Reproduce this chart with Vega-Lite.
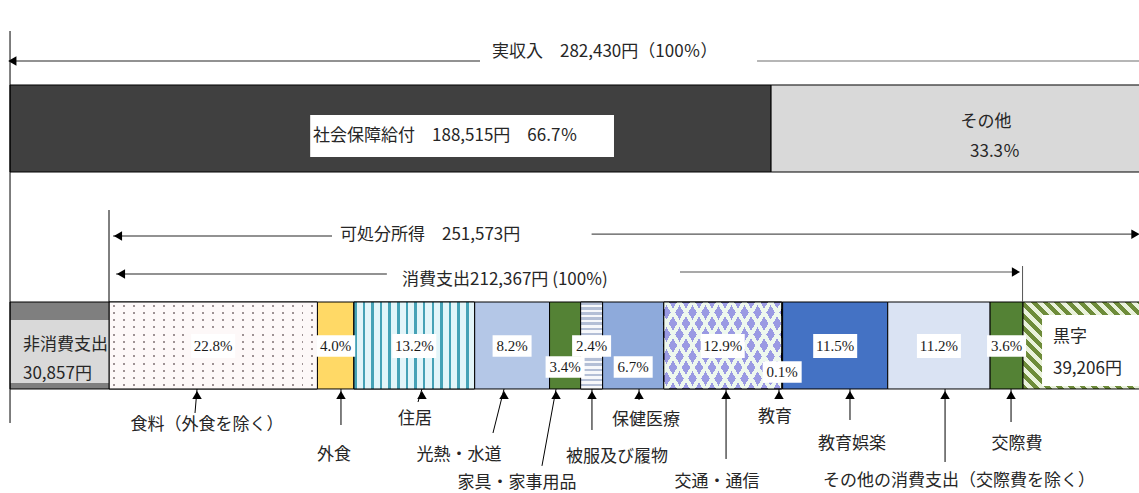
{
 "$schema": "https://vega.github.io/schema/vega-lite/v6.json",
 "width": 1139,
 "height": 493,
 "autosize": {"type": "fit", "contains": "padding"},
 "padding": 0,
 "background": "#ffffff",
 "config": {"view": {"stroke": null}},
 "resolve": {"scale": {"fill": "independent"}},
 "data": {"values": [{}]},
 "datasets": {
  "income": [
   {"ord": 1, "cat": "社会保障給付", "amount": 188515, "pct": 66.7},
   {"ord": 2, "cat": "その他", "pct": 33.3}
  ],
  "totals": [
   {"name": "実収入", "amount": 282430},
   {"name": "可処分所得", "amount": 251573},
   {"name": "消費支出", "amount": 212367}
  ],
  "balance": [
   {"name": "非消費支出", "amount": 30857},
   {"name": "黒字", "amount": 39206}
  ],
  "cons": [
   {"ord": 1, "cat": "食料（外食を除く）", "pct": 22.8, "tier": 0},
   {"ord": 2, "cat": "外食", "pct": 4.0, "tier": 0},
   {"ord": 3, "cat": "住居", "pct": 13.2, "tier": 0},
   {"ord": 4, "cat": "光熱・水道", "pct": 8.2, "tier": 0},
   {"ord": 5, "cat": "家具・家事用品", "pct": 3.4, "tier": 1},
   {"ord": 6, "cat": "被服及び履物", "pct": 2.4, "tier": 0},
   {"ord": 7, "cat": "保健医療", "pct": 6.7, "tier": 1},
   {"ord": 8, "cat": "交通・通信", "pct": 12.9, "tier": 0},
   {"ord": 9, "cat": "教育", "pct": 0.1, "tier": 2},
   {"ord": 10, "cat": "教育娯楽", "pct": 11.5, "tier": 0},
   {"ord": 11, "cat": "その他の消費支出（交際費を除く）", "pct": 11.2, "tier": 0},
   {"ord": 12, "cat": "交際費", "pct": 3.6, "tier": 0}
  ],
  "callouts": [
   {"cat": "食料（外食を除く）", "tx": 9.63, "ex": 9.41, "ey": 83.77, "lx": 10.72, "ly": 86.21},
   {"cat": "外食", "tx": 25.38, "ex": 25.38, "ey": 86.21, "lx": 24.62, "ly": 92.29},
   {"cat": "住居", "tx": 34.24, "ex": 33.81, "ey": 81.54, "lx": 33.48, "ly": 84.99},
   {"cat": "光熱・水道", "tx": 43.22, "ex": 42.01, "ey": 87.83, "lx": 38.29, "ly": 92.29},
   {"cat": "家具・家事用品", "tx": 48.91, "ex": 47.37, "ey": 94.5, "lx": 44.64, "ly": 98.0},
   {"cat": "被服及び履物", "tx": 52.84, "ex": 52.84, "ey": 87.22, "lx": 55.58, "ly": 92.7},
   {"cat": "保健医療", "tx": 57.99, "ex": 57.99, "ey": 81.14, "lx": 58.75, "ly": 85.19},
   {"cat": "交通・通信", "tx": 67.51, "ex": 67.51, "ey": 93.1, "lx": 66.52, "ly": 97.77},
   {"cat": "教育", "tx": 73.3, "ex": 73.3, "ey": 80.53, "lx": 72.87, "ly": 84.6},
   {"cat": "教育娯楽", "tx": 81.07, "ex": 81.07, "ey": 85.19, "lx": 81.29, "ly": 90.06},
   {"cat": "その他の消費支出（交際費を除く）", "tx": 91.47, "ex": 91.47, "ey": 93.71, "lx": 93.0, "ly": 97.57},
   {"cat": "交際費", "tx": 98.69, "ex": 98.69, "ey": 85.6, "lx": 99.34, "ly": 90.06}
  ]
 },
 "layer": [
  {
   "data": {"name": "income"},
   "transform": [
    {"stack": "pct", "groupby": [], "sort": [{"field": "ord", "order": "ascending"}], "as": ["s0", "s1"]},
    {"calculate": "1.2484 * datum.s0 - 10.832", "as": "a0"},
    {"calculate": "1.2484 * datum.s1 - 10.832", "as": "a1"}
   ],
   "mark": {"type": "rect", "stroke": "#000000", "strokeWidth": 1, "clip": true},
   "encoding": {
    "x": {"field": "a0", "type": "quantitative", "axis": null, "scale": {"domain": [-11.926, 112.69], "nice": false, "zero": false}},
    "x2": {"field": "a1"},
    "y": {"datum": 17.24, "type": "quantitative", "axis": null, "scale": {"domain": [0, 100], "nice": false, "zero": false, "reverse": true}},
    "y2": {"datum": 34.89},
    "fill": {"field": "cat", "type": "nominal", "scale": {"domain": ["社会保障給付", "その他"], "range": ["#404040", "#d9d9d9"]}, "legend": null}
   }
  },
  {
   "data": {"name": "income"},
   "transform": [{"filter": "datum.ord === 1"}],
   "mark": {"type": "rect", "fill": "#ffffff", "clip": true},
   "encoding": {
    "x": {"datum": 22.01, "type": "quantitative", "axis": null},
    "x2": {"datum": 55.25},
    "y": {"datum": 23.33, "type": "quantitative", "axis": null},
    "y2": {"datum": 31.85}
   }
  },
  {
   "data": {"name": "income"},
   "transform": [{"filter": "datum.ord === 1"}, {"calculate": "datum.cat + '　' + format(datum.amount, ',') + '円　' + format(datum.pct, '.1f') + '％'", "as": "t"}],
   "mark": {"type": "text", "align": "left", "baseline": "middle", "font": "Noto Sans CJK JP", "fontSize": 17, "color": "#262626", "clip": true},
   "encoding": {
    "x": {"datum": 22.32, "type": "quantitative", "axis": null},
    "y": {"datum": 27.59, "type": "quantitative", "axis": null},
    "text": {"field": "t", "type": "nominal"}
   }
  },
  {
   "data": {"name": "income"},
   "transform": [{"filter": "datum.ord === 2"}],
   "mark": {"type": "text", "align": "center", "baseline": "middle", "font": "Noto Sans CJK JP", "fontSize": 17, "color": "#262626", "clip": true},
   "encoding": {
    "x": {"datum": 95.95, "type": "quantitative", "axis": null},
    "y": {"datum": 24.75, "type": "quantitative", "axis": null},
    "text": {"field": "cat", "type": "nominal"}
   }
  },
  {
   "data": {"name": "income"},
   "transform": [{"filter": "datum.ord === 2"}, {"calculate": "format(datum.pct, '.1f') + '％'", "as": "t"}],
   "mark": {"type": "text", "align": "center", "baseline": "middle", "font": "Noto Sans CJK JP", "fontSize": 17, "color": "#262626", "clip": true},
   "encoding": {
    "x": {"datum": 96.94, "type": "quantitative", "axis": null},
    "y": {"datum": 30.83, "type": "quantitative", "axis": null},
    "text": {"field": "t", "type": "nominal"}
   }
  },
  {
   "data": {"name": "totals"},
   "transform": [{"filter": "datum.name === '実収入'"}, {"calculate": "datum.name + '　' + format(datum.amount, ',') + '円（100％）'", "as": "t"}],
   "mark": {"type": "text", "align": "left", "baseline": "middle", "font": "Noto Sans CJK JP", "fontSize": 17, "color": "#262626", "clip": true},
   "encoding": {
    "x": {"datum": 41.9, "type": "quantitative", "axis": null},
    "y": {"datum": 10.55, "type": "quantitative", "axis": null},
    "text": {"field": "t", "type": "nominal"}
   }
  },
  {
   "mark": {"type": "rule", "color": "#262626", "strokeWidth": 1.2, "clip": true},
   "encoding": {
    "x": {"datum": -10.83, "type": "quantitative", "axis": null},
    "x2": {"datum": 40.59},
    "y": {"datum": 12.37, "type": "quantitative", "axis": null}
   }
  },
  {
   "mark": {"type": "rule", "color": "#6e6e6e", "strokeWidth": 1.2, "clip": true},
   "encoding": {
    "x": {"datum": 70.9, "type": "quantitative", "axis": null},
    "x2": {"datum": 115},
    "y": {"datum": 12.37, "type": "quantitative", "axis": null}
   }
  },
  {
   "mark": {"type": "point", "shape": "triangle-left", "filled": true, "color": "#000000", "opacity": 1, "size": 90, "clip": true},
   "encoding": {
    "x": {"datum": -10.58, "type": "quantitative", "axis": null},
    "y": {"datum": 12.37, "type": "quantitative", "axis": null}
   }
  },
  {
   "data": {"name": "cons"},
   "transform": [{"stack": "pct", "groupby": [], "sort": [{"field": "ord", "order": "ascending"}], "as": ["c0", "c1"]}],
   "mark": {"type": "rect", "stroke": "#000000", "strokeWidth": 1, "clip": true},
   "encoding": {
    "x": {"field": "c0", "type": "quantitative", "axis": null},
    "x2": {"field": "c1"},
    "y": {"datum": 61.26, "type": "quantitative", "axis": null},
    "y2": {"datum": 78.9},
    "fill": {"field": "cat", "type": "nominal", "legend": null, "scale": {
     "domain": ["食料（外食を除く）", "外食", "住居", "光熱・水道", "家具・家事用品", "被服及び履物", "保健医療", "交通・通信", "教育", "教育娯楽", "その他の消費支出（交際費を除く）", "交際費"],
     "range": ["#9e9294", "#ffd966", "#c6e9f0", "#b4c7e7", "#548235", "#d7dde9", "#8eaadb", "#9a9ae3", "#a9d18e", "#4472c4", "#dae3f3", "#548235"]}}
   }
  },
  {
   "data": {"name": "cons"},
   "transform": [{"stack": "pct", "groupby": [], "sort": [{"field": "ord", "order": "ascending"}], "as": ["c0", "c1"]}, {"filter": "datum.ord === 1"}],
   "mark": {"type": "rect", "strokeWidth": 0, "clip": true,
    "fill": {"gradient": "linear", "x1": 0, "y1": 0, "x2": 1, "y2": 0, "stops": [
     {"offset": 0, "color": "#fdf8f8"},
     {"offset": 0.019, "color": "#fdf8f8"}, {"offset": 0.019, "color": "rgba(253,248,248,0)"}, {"offset": 0.0286, "color": "rgba(253,248,248,0)"}, {"offset": 0.0286, "color": "#fdf8f8"},
     {"offset": 0.0667, "color": "#fdf8f8"}, {"offset": 0.0667, "color": "rgba(253,248,248,0)"}, {"offset": 0.0762, "color": "rgba(253,248,248,0)"}, {"offset": 0.0762, "color": "#fdf8f8"},
     {"offset": 0.1143, "color": "#fdf8f8"}, {"offset": 0.1143, "color": "rgba(253,248,248,0)"}, {"offset": 0.1238, "color": "rgba(253,248,248,0)"}, {"offset": 0.1238, "color": "#fdf8f8"},
     {"offset": 0.1619, "color": "#fdf8f8"}, {"offset": 0.1619, "color": "rgba(253,248,248,0)"}, {"offset": 0.1714, "color": "rgba(253,248,248,0)"}, {"offset": 0.1714, "color": "#fdf8f8"},
     {"offset": 0.2095, "color": "#fdf8f8"}, {"offset": 0.2095, "color": "rgba(253,248,248,0)"}, {"offset": 0.219, "color": "rgba(253,248,248,0)"}, {"offset": 0.219, "color": "#fdf8f8"},
     {"offset": 0.2571, "color": "#fdf8f8"}, {"offset": 0.2571, "color": "rgba(253,248,248,0)"}, {"offset": 0.2667, "color": "rgba(253,248,248,0)"}, {"offset": 0.2667, "color": "#fdf8f8"},
     {"offset": 0.3048, "color": "#fdf8f8"}, {"offset": 0.3048, "color": "rgba(253,248,248,0)"}, {"offset": 0.3143, "color": "rgba(253,248,248,0)"}, {"offset": 0.3143, "color": "#fdf8f8"},
     {"offset": 0.3524, "color": "#fdf8f8"}, {"offset": 0.3524, "color": "rgba(253,248,248,0)"}, {"offset": 0.3619, "color": "rgba(253,248,248,0)"}, {"offset": 0.3619, "color": "#fdf8f8"},
     {"offset": 0.4, "color": "#fdf8f8"}, {"offset": 0.4, "color": "rgba(253,248,248,0)"}, {"offset": 0.4095, "color": "rgba(253,248,248,0)"}, {"offset": 0.4095, "color": "#fdf8f8"},
     {"offset": 0.4476, "color": "#fdf8f8"}, {"offset": 0.4476, "color": "rgba(253,248,248,0)"}, {"offset": 0.4571, "color": "rgba(253,248,248,0)"}, {"offset": 0.4571, "color": "#fdf8f8"},
     {"offset": 0.4952, "color": "#fdf8f8"}, {"offset": 0.4952, "color": "rgba(253,248,248,0)"}, {"offset": 0.5048, "color": "rgba(253,248,248,0)"}, {"offset": 0.5048, "color": "#fdf8f8"},
     {"offset": 0.5429, "color": "#fdf8f8"}, {"offset": 0.5429, "color": "rgba(253,248,248,0)"}, {"offset": 0.5524, "color": "rgba(253,248,248,0)"}, {"offset": 0.5524, "color": "#fdf8f8"},
     {"offset": 0.5905, "color": "#fdf8f8"}, {"offset": 0.5905, "color": "rgba(253,248,248,0)"}, {"offset": 0.6, "color": "rgba(253,248,248,0)"}, {"offset": 0.6, "color": "#fdf8f8"},
     {"offset": 0.6381, "color": "#fdf8f8"}, {"offset": 0.6381, "color": "rgba(253,248,248,0)"}, {"offset": 0.6476, "color": "rgba(253,248,248,0)"}, {"offset": 0.6476, "color": "#fdf8f8"},
     {"offset": 0.6857, "color": "#fdf8f8"}, {"offset": 0.6857, "color": "rgba(253,248,248,0)"}, {"offset": 0.6952, "color": "rgba(253,248,248,0)"}, {"offset": 0.6952, "color": "#fdf8f8"},
     {"offset": 0.7333, "color": "#fdf8f8"}, {"offset": 0.7333, "color": "rgba(253,248,248,0)"}, {"offset": 0.7429, "color": "rgba(253,248,248,0)"}, {"offset": 0.7429, "color": "#fdf8f8"},
     {"offset": 0.781, "color": "#fdf8f8"}, {"offset": 0.781, "color": "rgba(253,248,248,0)"}, {"offset": 0.7905, "color": "rgba(253,248,248,0)"}, {"offset": 0.7905, "color": "#fdf8f8"},
     {"offset": 0.8286, "color": "#fdf8f8"}, {"offset": 0.8286, "color": "rgba(253,248,248,0)"}, {"offset": 0.8381, "color": "rgba(253,248,248,0)"}, {"offset": 0.8381, "color": "#fdf8f8"},
     {"offset": 0.8762, "color": "#fdf8f8"}, {"offset": 0.8762, "color": "rgba(253,248,248,0)"}, {"offset": 0.8857, "color": "rgba(253,248,248,0)"}, {"offset": 0.8857, "color": "#fdf8f8"},
     {"offset": 0.9238, "color": "#fdf8f8"}, {"offset": 0.9238, "color": "rgba(253,248,248,0)"}, {"offset": 0.9333, "color": "rgba(253,248,248,0)"}, {"offset": 0.9333, "color": "#fdf8f8"},
     {"offset": 0.9714, "color": "#fdf8f8"}, {"offset": 0.9714, "color": "rgba(253,248,248,0)"}, {"offset": 0.981, "color": "rgba(253,248,248,0)"}, {"offset": 0.981, "color": "#fdf8f8"},
     {"offset": 1, "color": "#fdf8f8"}
    ]}},
   "encoding": {
    "x": {"field": "c0", "type": "quantitative", "axis": null},
    "x2": {"field": "c1"},
    "y": {"datum": 61.26, "type": "quantitative", "axis": null},
    "y2": {"datum": 78.9}
   }
  },
  {
   "data": {"name": "cons"},
   "transform": [{"stack": "pct", "groupby": [], "sort": [{"field": "ord", "order": "ascending"}], "as": ["c0", "c1"]}, {"filter": "datum.ord === 1"}],
   "mark": {"type": "rect", "stroke": "#000000", "strokeWidth": 1, "clip": true,
    "fill": {"gradient": "linear", "x1": 0, "y1": 0, "x2": 0, "y2": 1, "stops": [
     {"offset": 0, "color": "#fdf8f8"},
     {"offset": 0.0313, "color": "#fdf8f8"}, {"offset": 0.0313, "color": "rgba(253,248,248,0)"}, {"offset": 0.0521, "color": "rgba(253,248,248,0)"}, {"offset": 0.0521, "color": "#fdf8f8"},
     {"offset": 0.1146, "color": "#fdf8f8"}, {"offset": 0.1146, "color": "rgba(253,248,248,0)"}, {"offset": 0.1354, "color": "rgba(253,248,248,0)"}, {"offset": 0.1354, "color": "#fdf8f8"},
     {"offset": 0.1979, "color": "#fdf8f8"}, {"offset": 0.1979, "color": "rgba(253,248,248,0)"}, {"offset": 0.2188, "color": "rgba(253,248,248,0)"}, {"offset": 0.2188, "color": "#fdf8f8"},
     {"offset": 0.2813, "color": "#fdf8f8"}, {"offset": 0.2813, "color": "rgba(253,248,248,0)"}, {"offset": 0.3021, "color": "rgba(253,248,248,0)"}, {"offset": 0.3021, "color": "#fdf8f8"},
     {"offset": 0.3646, "color": "#fdf8f8"}, {"offset": 0.3646, "color": "rgba(253,248,248,0)"}, {"offset": 0.3854, "color": "rgba(253,248,248,0)"}, {"offset": 0.3854, "color": "#fdf8f8"},
     {"offset": 0.4479, "color": "#fdf8f8"}, {"offset": 0.4479, "color": "rgba(253,248,248,0)"}, {"offset": 0.4688, "color": "rgba(253,248,248,0)"}, {"offset": 0.4688, "color": "#fdf8f8"},
     {"offset": 0.5313, "color": "#fdf8f8"}, {"offset": 0.5313, "color": "rgba(253,248,248,0)"}, {"offset": 0.5521, "color": "rgba(253,248,248,0)"}, {"offset": 0.5521, "color": "#fdf8f8"},
     {"offset": 0.6146, "color": "#fdf8f8"}, {"offset": 0.6146, "color": "rgba(253,248,248,0)"}, {"offset": 0.6354, "color": "rgba(253,248,248,0)"}, {"offset": 0.6354, "color": "#fdf8f8"},
     {"offset": 0.6979, "color": "#fdf8f8"}, {"offset": 0.6979, "color": "rgba(253,248,248,0)"}, {"offset": 0.7188, "color": "rgba(253,248,248,0)"}, {"offset": 0.7188, "color": "#fdf8f8"},
     {"offset": 0.7813, "color": "#fdf8f8"}, {"offset": 0.7813, "color": "rgba(253,248,248,0)"}, {"offset": 0.8021, "color": "rgba(253,248,248,0)"}, {"offset": 0.8021, "color": "#fdf8f8"},
     {"offset": 0.8646, "color": "#fdf8f8"}, {"offset": 0.8646, "color": "rgba(253,248,248,0)"}, {"offset": 0.8854, "color": "rgba(253,248,248,0)"}, {"offset": 0.8854, "color": "#fdf8f8"},
     {"offset": 0.9479, "color": "#fdf8f8"}, {"offset": 0.9479, "color": "rgba(253,248,248,0)"}, {"offset": 0.9688, "color": "rgba(253,248,248,0)"}, {"offset": 0.9688, "color": "#fdf8f8"},
     {"offset": 1, "color": "#fdf8f8"}
    ]}},
   "encoding": {
    "x": {"field": "c0", "type": "quantitative", "axis": null},
    "x2": {"field": "c1"},
    "y": {"datum": 61.26, "type": "quantitative", "axis": null},
    "y2": {"datum": 78.9}
   }
  },
  {
   "data": {"name": "cons"},
   "transform": [{"stack": "pct", "groupby": [], "sort": [{"field": "ord", "order": "ascending"}], "as": ["c0", "c1"]}, {"filter": "datum.ord === 8"}],
   "mark": {"type": "rect", "strokeWidth": 0, "clip": true,
    "fill": {"gradient": "linear", "x1": 0, "y1": 1, "x2": 1.2067, "y2": 0.4739, "stops": [
     {"offset": 0, "color": "#eef8ee"}, {"offset": 0.0269, "color": "#eef8ee"}, {"offset": 0.0269, "color": "rgba(238,248,238,0)"}, {"offset": 0.0769, "color": "rgba(238,248,238,0)"},
     {"offset": 0.0769, "color": "#eef8ee"}, {"offset": 0.1038, "color": "#eef8ee"}, {"offset": 0.1038, "color": "rgba(238,248,238,0)"}, {"offset": 0.1538, "color": "rgba(238,248,238,0)"},
     {"offset": 0.1538, "color": "#eef8ee"}, {"offset": 0.1807, "color": "#eef8ee"}, {"offset": 0.1807, "color": "rgba(238,248,238,0)"}, {"offset": 0.2308, "color": "rgba(238,248,238,0)"},
     {"offset": 0.2308, "color": "#eef8ee"}, {"offset": 0.2577, "color": "#eef8ee"}, {"offset": 0.2577, "color": "rgba(238,248,238,0)"}, {"offset": 0.3077, "color": "rgba(238,248,238,0)"},
     {"offset": 0.3077, "color": "#eef8ee"}, {"offset": 0.3346, "color": "#eef8ee"}, {"offset": 0.3346, "color": "rgba(238,248,238,0)"}, {"offset": 0.3846, "color": "rgba(238,248,238,0)"},
     {"offset": 0.3846, "color": "#eef8ee"}, {"offset": 0.4115, "color": "#eef8ee"}, {"offset": 0.4115, "color": "rgba(238,248,238,0)"}, {"offset": 0.4615, "color": "rgba(238,248,238,0)"},
     {"offset": 0.4615, "color": "#eef8ee"}, {"offset": 0.4884, "color": "#eef8ee"}, {"offset": 0.4884, "color": "rgba(238,248,238,0)"}, {"offset": 0.5385, "color": "rgba(238,248,238,0)"},
     {"offset": 0.5385, "color": "#eef8ee"}, {"offset": 0.5654, "color": "#eef8ee"}, {"offset": 0.5654, "color": "rgba(238,248,238,0)"}, {"offset": 0.6154, "color": "rgba(238,248,238,0)"},
     {"offset": 0.6154, "color": "#eef8ee"}, {"offset": 0.6423, "color": "#eef8ee"}, {"offset": 0.6423, "color": "rgba(238,248,238,0)"}, {"offset": 0.6923, "color": "rgba(238,248,238,0)"},
     {"offset": 0.6923, "color": "#eef8ee"}, {"offset": 0.7192, "color": "#eef8ee"}, {"offset": 0.7192, "color": "rgba(238,248,238,0)"}, {"offset": 0.7692, "color": "rgba(238,248,238,0)"},
     {"offset": 0.7692, "color": "#eef8ee"}, {"offset": 0.7961, "color": "#eef8ee"}, {"offset": 0.7961, "color": "rgba(238,248,238,0)"}, {"offset": 0.8462, "color": "rgba(238,248,238,0)"},
     {"offset": 0.8462, "color": "#eef8ee"}, {"offset": 0.8731, "color": "#eef8ee"}, {"offset": 0.8731, "color": "rgba(238,248,238,0)"}, {"offset": 0.9231, "color": "rgba(238,248,238,0)"},
     {"offset": 0.9231, "color": "#eef8ee"}, {"offset": 0.95, "color": "#eef8ee"}, {"offset": 0.95, "color": "rgba(238,248,238,0)"}, {"offset": 1, "color": "rgba(238,248,238,0)"}
    ]}},
   "encoding": {
    "x": {"field": "c0", "type": "quantitative", "axis": null},
    "x2": {"field": "c1"},
    "y": {"datum": 61.26, "type": "quantitative", "axis": null},
    "y2": {"datum": 78.9}
   }
  },
  {
   "data": {"name": "cons"},
   "transform": [{"stack": "pct", "groupby": [], "sort": [{"field": "ord", "order": "ascending"}], "as": ["c0", "c1"]}, {"filter": "datum.ord === 8"}],
   "mark": {"type": "rect", "stroke": "#000000", "strokeWidth": 1, "clip": true,
    "fill": {"gradient": "linear", "x1": 0, "y1": 0, "x2": 1.2067, "y2": 0.526, "stops": [
     {"offset": 0, "color": "#eef8ee"}, {"offset": 0.0269, "color": "#eef8ee"}, {"offset": 0.0269, "color": "rgba(238,248,238,0)"}, {"offset": 0.0769, "color": "rgba(238,248,238,0)"},
     {"offset": 0.0769, "color": "#eef8ee"}, {"offset": 0.1038, "color": "#eef8ee"}, {"offset": 0.1038, "color": "rgba(238,248,238,0)"}, {"offset": 0.1538, "color": "rgba(238,248,238,0)"},
     {"offset": 0.1538, "color": "#eef8ee"}, {"offset": 0.1807, "color": "#eef8ee"}, {"offset": 0.1807, "color": "rgba(238,248,238,0)"}, {"offset": 0.2308, "color": "rgba(238,248,238,0)"},
     {"offset": 0.2308, "color": "#eef8ee"}, {"offset": 0.2577, "color": "#eef8ee"}, {"offset": 0.2577, "color": "rgba(238,248,238,0)"}, {"offset": 0.3077, "color": "rgba(238,248,238,0)"},
     {"offset": 0.3077, "color": "#eef8ee"}, {"offset": 0.3346, "color": "#eef8ee"}, {"offset": 0.3346, "color": "rgba(238,248,238,0)"}, {"offset": 0.3846, "color": "rgba(238,248,238,0)"},
     {"offset": 0.3846, "color": "#eef8ee"}, {"offset": 0.4115, "color": "#eef8ee"}, {"offset": 0.4115, "color": "rgba(238,248,238,0)"}, {"offset": 0.4615, "color": "rgba(238,248,238,0)"},
     {"offset": 0.4615, "color": "#eef8ee"}, {"offset": 0.4884, "color": "#eef8ee"}, {"offset": 0.4884, "color": "rgba(238,248,238,0)"}, {"offset": 0.5385, "color": "rgba(238,248,238,0)"},
     {"offset": 0.5385, "color": "#eef8ee"}, {"offset": 0.5654, "color": "#eef8ee"}, {"offset": 0.5654, "color": "rgba(238,248,238,0)"}, {"offset": 0.6154, "color": "rgba(238,248,238,0)"},
     {"offset": 0.6154, "color": "#eef8ee"}, {"offset": 0.6423, "color": "#eef8ee"}, {"offset": 0.6423, "color": "rgba(238,248,238,0)"}, {"offset": 0.6923, "color": "rgba(238,248,238,0)"},
     {"offset": 0.6923, "color": "#eef8ee"}, {"offset": 0.7192, "color": "#eef8ee"}, {"offset": 0.7192, "color": "rgba(238,248,238,0)"}, {"offset": 0.7692, "color": "rgba(238,248,238,0)"},
     {"offset": 0.7692, "color": "#eef8ee"}, {"offset": 0.7961, "color": "#eef8ee"}, {"offset": 0.7961, "color": "rgba(238,248,238,0)"}, {"offset": 0.8462, "color": "rgba(238,248,238,0)"},
     {"offset": 0.8462, "color": "#eef8ee"}, {"offset": 0.8731, "color": "#eef8ee"}, {"offset": 0.8731, "color": "rgba(238,248,238,0)"}, {"offset": 0.9231, "color": "rgba(238,248,238,0)"},
     {"offset": 0.9231, "color": "#eef8ee"}, {"offset": 0.95, "color": "#eef8ee"}, {"offset": 0.95, "color": "rgba(238,248,238,0)"}, {"offset": 1, "color": "rgba(238,248,238,0)"}
    ]}},
   "encoding": {
    "x": {"field": "c0", "type": "quantitative", "axis": null},
    "x2": {"field": "c1"},
    "y": {"datum": 61.26, "type": "quantitative", "axis": null},
    "y2": {"datum": 78.9}
   }
  },
  {
   "data": {"name": "cons"},
   "transform": [{"stack": "pct", "groupby": [], "sort": [{"field": "ord", "order": "ascending"}], "as": ["c0", "c1"]}, {"filter": "datum.cat === '住居'"}],
   "mark": {"type": "rect", "stroke": "#000000", "strokeWidth": 1, "clip": true,
    "fill": {"gradient": "linear", "x1": 0, "y1": 0, "x2": 1, "y2": 0, "stops": [
     {"offset": 0, "color": "#46a2b6"}, {"offset": 0.0214, "color": "#46a2b6"}, {"offset": 0.0214, "color": "#e2f5f9"}, {"offset": 0.0714, "color": "#e2f5f9"},
     {"offset": 0.0714, "color": "#46a2b6"}, {"offset": 0.0929, "color": "#46a2b6"}, {"offset": 0.0929, "color": "#e2f5f9"}, {"offset": 0.1429, "color": "#e2f5f9"},
     {"offset": 0.1429, "color": "#46a2b6"}, {"offset": 0.1643, "color": "#46a2b6"}, {"offset": 0.1643, "color": "#e2f5f9"}, {"offset": 0.2143, "color": "#e2f5f9"},
     {"offset": 0.2143, "color": "#46a2b6"}, {"offset": 0.2357, "color": "#46a2b6"}, {"offset": 0.2357, "color": "#e2f5f9"}, {"offset": 0.2857, "color": "#e2f5f9"},
     {"offset": 0.2857, "color": "#46a2b6"}, {"offset": 0.3071, "color": "#46a2b6"}, {"offset": 0.3071, "color": "#e2f5f9"}, {"offset": 0.3571, "color": "#e2f5f9"},
     {"offset": 0.3571, "color": "#46a2b6"}, {"offset": 0.3786, "color": "#46a2b6"}, {"offset": 0.3786, "color": "#e2f5f9"}, {"offset": 0.4286, "color": "#e2f5f9"},
     {"offset": 0.4286, "color": "#46a2b6"}, {"offset": 0.45, "color": "#46a2b6"}, {"offset": 0.45, "color": "#e2f5f9"}, {"offset": 0.5, "color": "#e2f5f9"},
     {"offset": 0.5, "color": "#46a2b6"}, {"offset": 0.5214, "color": "#46a2b6"}, {"offset": 0.5214, "color": "#e2f5f9"}, {"offset": 0.5714, "color": "#e2f5f9"},
     {"offset": 0.5714, "color": "#46a2b6"}, {"offset": 0.5929, "color": "#46a2b6"}, {"offset": 0.5929, "color": "#e2f5f9"}, {"offset": 0.6429, "color": "#e2f5f9"},
     {"offset": 0.6429, "color": "#46a2b6"}, {"offset": 0.6643, "color": "#46a2b6"}, {"offset": 0.6643, "color": "#e2f5f9"}, {"offset": 0.7143, "color": "#e2f5f9"},
     {"offset": 0.7143, "color": "#46a2b6"}, {"offset": 0.7357, "color": "#46a2b6"}, {"offset": 0.7357, "color": "#e2f5f9"}, {"offset": 0.7857, "color": "#e2f5f9"},
     {"offset": 0.7857, "color": "#46a2b6"}, {"offset": 0.8071, "color": "#46a2b6"}, {"offset": 0.8071, "color": "#e2f5f9"}, {"offset": 0.8571, "color": "#e2f5f9"},
     {"offset": 0.8571, "color": "#46a2b6"}, {"offset": 0.8786, "color": "#46a2b6"}, {"offset": 0.8786, "color": "#e2f5f9"}, {"offset": 0.9286, "color": "#e2f5f9"},
     {"offset": 0.9286, "color": "#46a2b6"}, {"offset": 0.95, "color": "#46a2b6"}, {"offset": 0.95, "color": "#e2f5f9"}, {"offset": 1, "color": "#e2f5f9"}
    ]}},
   "encoding": {
    "x": {"field": "c0", "type": "quantitative", "axis": null},
    "x2": {"field": "c1"},
    "y": {"datum": 61.26, "type": "quantitative", "axis": null},
    "y2": {"datum": 78.9}
   }
  },
  {
   "data": {"name": "cons"},
   "transform": [{"stack": "pct", "groupby": [], "sort": [{"field": "ord", "order": "ascending"}], "as": ["c0", "c1"]}, {"filter": "datum.cat === '被服及び履物'"}],
   "mark": {"type": "rect", "stroke": "#000000", "strokeWidth": 1, "clip": true,
    "fill": {"gradient": "linear", "x1": 0, "y1": 0, "x2": 0, "y2": 1, "stops": [
     {"offset": 0, "color": "#b4bfd6"}, {"offset": 0.0294, "color": "#b4bfd6"}, {"offset": 0.0294, "color": "#f7f8fb"}, {"offset": 0.0588, "color": "#f7f8fb"},
     {"offset": 0.0588, "color": "#b4bfd6"}, {"offset": 0.0882, "color": "#b4bfd6"}, {"offset": 0.0882, "color": "#f7f8fb"}, {"offset": 0.1176, "color": "#f7f8fb"},
     {"offset": 0.1176, "color": "#b4bfd6"}, {"offset": 0.1471, "color": "#b4bfd6"}, {"offset": 0.1471, "color": "#f7f8fb"}, {"offset": 0.1765, "color": "#f7f8fb"},
     {"offset": 0.1765, "color": "#b4bfd6"}, {"offset": 0.2059, "color": "#b4bfd6"}, {"offset": 0.2059, "color": "#f7f8fb"}, {"offset": 0.2353, "color": "#f7f8fb"},
     {"offset": 0.2353, "color": "#b4bfd6"}, {"offset": 0.2647, "color": "#b4bfd6"}, {"offset": 0.2647, "color": "#f7f8fb"}, {"offset": 0.2941, "color": "#f7f8fb"},
     {"offset": 0.2941, "color": "#b4bfd6"}, {"offset": 0.3235, "color": "#b4bfd6"}, {"offset": 0.3235, "color": "#f7f8fb"}, {"offset": 0.3529, "color": "#f7f8fb"},
     {"offset": 0.3529, "color": "#b4bfd6"}, {"offset": 0.3824, "color": "#b4bfd6"}, {"offset": 0.3824, "color": "#f7f8fb"}, {"offset": 0.4118, "color": "#f7f8fb"},
     {"offset": 0.4118, "color": "#b4bfd6"}, {"offset": 0.4412, "color": "#b4bfd6"}, {"offset": 0.4412, "color": "#f7f8fb"}, {"offset": 0.4706, "color": "#f7f8fb"},
     {"offset": 0.4706, "color": "#b4bfd6"}, {"offset": 0.5, "color": "#b4bfd6"}, {"offset": 0.5, "color": "#f7f8fb"}, {"offset": 0.5294, "color": "#f7f8fb"},
     {"offset": 0.5294, "color": "#b4bfd6"}, {"offset": 0.5588, "color": "#b4bfd6"}, {"offset": 0.5588, "color": "#f7f8fb"}, {"offset": 0.5882, "color": "#f7f8fb"},
     {"offset": 0.5882, "color": "#b4bfd6"}, {"offset": 0.6176, "color": "#b4bfd6"}, {"offset": 0.6176, "color": "#f7f8fb"}, {"offset": 0.6471, "color": "#f7f8fb"},
     {"offset": 0.6471, "color": "#b4bfd6"}, {"offset": 0.6765, "color": "#b4bfd6"}, {"offset": 0.6765, "color": "#f7f8fb"}, {"offset": 0.7059, "color": "#f7f8fb"},
     {"offset": 0.7059, "color": "#b4bfd6"}, {"offset": 0.7353, "color": "#b4bfd6"}, {"offset": 0.7353, "color": "#f7f8fb"}, {"offset": 0.7647, "color": "#f7f8fb"},
     {"offset": 0.7647, "color": "#b4bfd6"}, {"offset": 0.7941, "color": "#b4bfd6"}, {"offset": 0.7941, "color": "#f7f8fb"}, {"offset": 0.8235, "color": "#f7f8fb"},
     {"offset": 0.8235, "color": "#b4bfd6"}, {"offset": 0.8529, "color": "#b4bfd6"}, {"offset": 0.8529, "color": "#f7f8fb"}, {"offset": 0.8824, "color": "#f7f8fb"},
     {"offset": 0.8824, "color": "#b4bfd6"}, {"offset": 0.9118, "color": "#b4bfd6"}, {"offset": 0.9118, "color": "#f7f8fb"}, {"offset": 0.9412, "color": "#f7f8fb"},
     {"offset": 0.9412, "color": "#b4bfd6"}, {"offset": 0.9706, "color": "#b4bfd6"}, {"offset": 0.9706, "color": "#f7f8fb"}, {"offset": 1, "color": "#f7f8fb"}
    ]}},
   "encoding": {
    "x": {"field": "c0", "type": "quantitative", "axis": null},
    "x2": {"field": "c1"},
    "y": {"datum": 61.26, "type": "quantitative", "axis": null},
    "y2": {"datum": 78.9}
   }
  },
  {
   "data": {"name": "balance"},
   "transform": [{"filter": "datum.name === '非消費支出'"}],
   "mark": {"type": "rect", "fill": "#7f7f7f", "stroke": "#000000", "strokeWidth": 1, "clip": true},
   "encoding": {
    "x": {"datum": -10.83, "type": "quantitative", "axis": null},
    "x2": {"datum": 0},
    "y": {"datum": 61.26, "type": "quantitative", "axis": null},
    "y2": {"datum": 78.9}
   }
  },
  {
   "data": {"name": "balance"},
   "transform": [{"filter": "datum.name === '非消費支出'"}],
   "mark": {"type": "rect", "fill": "#d9d9d9", "clip": true},
   "encoding": {
    "x": {"datum": -10.75, "type": "quantitative", "axis": null},
    "x2": {"datum": -0.08},
    "y": {"datum": 64.91, "type": "quantitative", "axis": null},
    "y2": {"datum": 77.69}
   }
  },
  {
   "data": {"name": "balance"},
   "transform": [{"filter": "datum.name === '非消費支出'"}],
   "mark": {"type": "text", "align": "left", "baseline": "middle", "font": "Noto Sans CJK JP", "fontSize": 17, "color": "#262626", "clip": true},
   "encoding": {
    "x": {"datum": -9.41, "type": "quantitative", "axis": null},
    "y": {"datum": 69.98, "type": "quantitative", "axis": null},
    "text": {"field": "name", "type": "nominal"}
   }
  },
  {
   "data": {"name": "balance"},
   "transform": [{"filter": "datum.name === '非消費支出'"}, {"calculate": "format(datum.amount, ',') + '円'", "as": "t"}],
   "mark": {"type": "text", "align": "left", "baseline": "middle", "font": "Noto Sans CJK JP", "fontSize": 17, "color": "#262626", "clip": true},
   "encoding": {
    "x": {"datum": -9.41, "type": "quantitative", "axis": null},
    "y": {"datum": 75.86, "type": "quantitative", "axis": null},
    "text": {"field": "t", "type": "nominal"}
   }
  },
  {
   "data": {"name": "balance"},
   "transform": [{"filter": "datum.name === '黒字'"}],
   "mark": {"type": "rect", "stroke": "#000000", "strokeWidth": 1, "clip": true,
    "fill": {"gradient": "linear", "x1": 0, "y1": 1, "x2": 1.165, "y2": 0.26, "stops": [
     {"offset": 0, "color": "#6e8c3a"}, {"offset": 0.0263, "color": "#6e8c3a"}, {"offset": 0.0263, "color": "#eaf2dc"}, {"offset": 0.0526, "color": "#eaf2dc"},
     {"offset": 0.0526, "color": "#6e8c3a"}, {"offset": 0.0789, "color": "#6e8c3a"}, {"offset": 0.0789, "color": "#eaf2dc"}, {"offset": 0.1053, "color": "#eaf2dc"},
     {"offset": 0.1053, "color": "#6e8c3a"}, {"offset": 0.1316, "color": "#6e8c3a"}, {"offset": 0.1316, "color": "#eaf2dc"}, {"offset": 0.1579, "color": "#eaf2dc"},
     {"offset": 0.1579, "color": "#6e8c3a"}, {"offset": 0.1842, "color": "#6e8c3a"}, {"offset": 0.1842, "color": "#eaf2dc"}, {"offset": 0.2105, "color": "#eaf2dc"},
     {"offset": 0.2105, "color": "#6e8c3a"}, {"offset": 0.2368, "color": "#6e8c3a"}, {"offset": 0.2368, "color": "#eaf2dc"}, {"offset": 0.2632, "color": "#eaf2dc"},
     {"offset": 0.2632, "color": "#6e8c3a"}, {"offset": 0.2895, "color": "#6e8c3a"}, {"offset": 0.2895, "color": "#eaf2dc"}, {"offset": 0.3158, "color": "#eaf2dc"},
     {"offset": 0.3158, "color": "#6e8c3a"}, {"offset": 0.3421, "color": "#6e8c3a"}, {"offset": 0.3421, "color": "#eaf2dc"}, {"offset": 0.3684, "color": "#eaf2dc"},
     {"offset": 0.3684, "color": "#6e8c3a"}, {"offset": 0.3947, "color": "#6e8c3a"}, {"offset": 0.3947, "color": "#eaf2dc"}, {"offset": 0.4211, "color": "#eaf2dc"},
     {"offset": 0.4211, "color": "#6e8c3a"}, {"offset": 0.4474, "color": "#6e8c3a"}, {"offset": 0.4474, "color": "#eaf2dc"}, {"offset": 0.4737, "color": "#eaf2dc"},
     {"offset": 0.4737, "color": "#6e8c3a"}, {"offset": 0.5, "color": "#6e8c3a"}, {"offset": 0.5, "color": "#eaf2dc"}, {"offset": 0.5263, "color": "#eaf2dc"},
     {"offset": 0.5263, "color": "#6e8c3a"}, {"offset": 0.5526, "color": "#6e8c3a"}, {"offset": 0.5526, "color": "#eaf2dc"}, {"offset": 0.5789, "color": "#eaf2dc"},
     {"offset": 0.5789, "color": "#6e8c3a"}, {"offset": 0.6053, "color": "#6e8c3a"}, {"offset": 0.6053, "color": "#eaf2dc"}, {"offset": 0.6316, "color": "#eaf2dc"},
     {"offset": 0.6316, "color": "#6e8c3a"}, {"offset": 0.6579, "color": "#6e8c3a"}, {"offset": 0.6579, "color": "#eaf2dc"}, {"offset": 0.6842, "color": "#eaf2dc"},
     {"offset": 0.6842, "color": "#6e8c3a"}, {"offset": 0.7105, "color": "#6e8c3a"}, {"offset": 0.7105, "color": "#eaf2dc"}, {"offset": 0.7368, "color": "#eaf2dc"},
     {"offset": 0.7368, "color": "#6e8c3a"}, {"offset": 0.7632, "color": "#6e8c3a"}, {"offset": 0.7632, "color": "#eaf2dc"}, {"offset": 0.7895, "color": "#eaf2dc"},
     {"offset": 0.7895, "color": "#6e8c3a"}, {"offset": 0.8158, "color": "#6e8c3a"}, {"offset": 0.8158, "color": "#eaf2dc"}, {"offset": 0.8421, "color": "#eaf2dc"},
     {"offset": 0.8421, "color": "#6e8c3a"}, {"offset": 0.8684, "color": "#6e8c3a"}, {"offset": 0.8684, "color": "#eaf2dc"}, {"offset": 0.8947, "color": "#eaf2dc"},
     {"offset": 0.8947, "color": "#6e8c3a"}, {"offset": 0.9211, "color": "#6e8c3a"}, {"offset": 0.9211, "color": "#eaf2dc"}, {"offset": 0.9474, "color": "#eaf2dc"},
     {"offset": 0.9474, "color": "#6e8c3a"}, {"offset": 0.9737, "color": "#6e8c3a"}, {"offset": 0.9737, "color": "#eaf2dc"}, {"offset": 1, "color": "#eaf2dc"}
    ]}},
   "encoding": {
    "x": {"datum": 100, "type": "quantitative", "axis": null},
    "x2": {"datum": 115},
    "y": {"datum": 61.26, "type": "quantitative", "axis": null},
    "y2": {"datum": 78.9}
   }
  },
  {
   "data": {"name": "balance"},
   "transform": [{"filter": "datum.name === '黒字'"}],
   "mark": {"type": "rect", "fill": "#ffffff", "clip": true},
   "encoding": {
    "x": {"datum": 102.08, "type": "quantitative", "axis": null},
    "x2": {"datum": 115},
    "y": {"datum": 63.9, "type": "quantitative", "axis": null},
    "y2": {"datum": 78.3}
   }
  },
  {
   "data": {"name": "balance"},
   "transform": [{"filter": "datum.name === '黒字'"}],
   "mark": {"type": "text", "align": "left", "baseline": "middle", "font": "Noto Sans CJK JP", "fontSize": 17, "color": "#262626", "clip": true},
   "encoding": {
    "x": {"datum": 103.28, "type": "quantitative", "axis": null},
    "y": {"datum": 68.36, "type": "quantitative", "axis": null},
    "text": {"field": "name", "type": "nominal"}
   }
  },
  {
   "data": {"name": "balance"},
   "transform": [{"filter": "datum.name === '黒字'"}, {"calculate": "format(datum.amount, ',') + '円'", "as": "t"}],
   "mark": {"type": "text", "align": "left", "baseline": "middle", "font": "Noto Sans CJK JP", "fontSize": 17, "color": "#262626", "clip": true},
   "encoding": {
    "x": {"datum": 103.28, "type": "quantitative", "axis": null},
    "y": {"datum": 74.85, "type": "quantitative", "axis": null},
    "text": {"field": "t", "type": "nominal"}
   }
  },
  {
   "data": {"name": "cons"},
   "transform": [
    {"stack": "pct", "groupby": [], "sort": [{"field": "ord", "order": "ascending"}], "as": ["c0", "c1"]},
    {"calculate": "(datum.c0 + datum.c1) / 2", "as": "mid"},
    {"calculate": "format(datum.pct, '.1f') + '%'", "as": "lab"},
    {"calculate": "datum.tier === 0 ? 70.18 : (datum.tier === 1 ? 74.44 : 75.46)", "as": "ly"},
    {"calculate": "length(datum.lab) > 4 ? 1936 : 1521", "as": "bs"}
   ],
   "mark": {"type": "point", "shape": "M-1,-0.55H1V0.55H-1Z", "filled": true, "color": "#ffffff", "opacity": 1, "strokeWidth": 0, "clip": true},
   "encoding": {
    "x": {"field": "mid", "type": "quantitative", "axis": null},
    "y": {"field": "ly", "type": "quantitative", "axis": null},
    "size": {"field": "bs", "type": "quantitative", "scale": null, "legend": null}
   }
  },
  {
   "data": {"name": "cons"},
   "transform": [
    {"stack": "pct", "groupby": [], "sort": [{"field": "ord", "order": "ascending"}], "as": ["c0", "c1"]},
    {"calculate": "(datum.c0 + datum.c1) / 2", "as": "mid"},
    {"calculate": "format(datum.pct, '.1f') + '%'", "as": "lab"},
    {"calculate": "datum.tier === 0 ? 70.18 : (datum.tier === 1 ? 74.44 : 75.46)", "as": "ly"}
   ],
   "mark": {"type": "text", "align": "center", "baseline": "middle", "font": "Liberation Serif", "fontSize": 15, "color": "#1a1a1a", "clip": true},
   "encoding": {
    "x": {"field": "mid", "type": "quantitative", "axis": null},
    "y": {"field": "ly", "type": "quantitative", "axis": null},
    "text": {"field": "lab", "type": "nominal"}
   }
  },
  {
   "data": {"name": "callouts"},
   "transform": [{"calculate": "78.9", "as": "by"}],
   "mark": {"type": "rule", "color": "#000000", "strokeWidth": 1, "clip": true},
   "encoding": {
    "x": {"field": "tx", "type": "quantitative", "axis": null},
    "x2": {"field": "ex"},
    "y": {"field": "by", "type": "quantitative", "axis": null},
    "y2": {"field": "ey"}
   }
  },
  {
   "data": {"name": "callouts"},
   "mark": {"type": "point", "shape": "triangle-up", "filled": true, "color": "#000000", "opacity": 1, "size": 90, "clip": true},
   "encoding": {
    "x": {"field": "tx", "type": "quantitative", "axis": null},
    "y": {"datum": 80.12, "type": "quantitative", "axis": null}
   }
  },
  {
   "data": {"name": "callouts"},
   "mark": {"type": "text", "align": "center", "baseline": "middle", "font": "Noto Sans CJK JP", "fontSize": 17, "color": "#262626", "clip": true},
   "encoding": {
    "x": {"field": "lx", "type": "quantitative", "axis": null},
    "y": {"field": "ly", "type": "quantitative", "axis": null},
    "text": {"field": "cat", "type": "nominal"}
   }
  },
  {
   "mark": {"type": "rule", "color": "#000000", "strokeWidth": 1, "clip": true},
   "encoding": {
    "x": {"datum": -10.83, "type": "quantitative", "axis": null},
    "y": {"datum": 6.29, "type": "quantitative", "axis": null},
    "y2": {"datum": 85.8}
   }
  },
  {
   "mark": {"type": "rule", "color": "#000000", "strokeWidth": 1, "clip": true},
   "encoding": {
    "x": {"datum": 0, "type": "quantitative", "axis": null},
    "y": {"datum": 42.6, "type": "quantitative", "axis": null},
    "y2": {"datum": 61.26}
   }
  },
  {
   "mark": {"type": "rule", "color": "#555555", "strokeWidth": 1, "clip": true},
   "encoding": {
    "x": {"datum": 99.95, "type": "quantitative", "axis": null},
    "y": {"datum": 53.96, "type": "quantitative", "axis": null},
    "y2": {"datum": 61.26}
   }
  },
  {
   "mark": {"type": "rule", "color": "#262626", "strokeWidth": 1.2, "clip": true},
   "encoding": {
    "x": {"datum": 0.44, "type": "quantitative", "axis": null},
    "x2": {"datum": 24.4},
    "y": {"datum": 47.87, "type": "quantitative", "axis": null}
   }
  },
  {
   "mark": {"type": "rule", "color": "#555555", "strokeWidth": 1.2, "clip": true},
   "encoding": {
    "x": {"datum": 52.8, "type": "quantitative", "axis": null},
    "x2": {"datum": 112.3},
    "y": {"datum": 47.5, "type": "quantitative", "axis": null}
   }
  },
  {
   "mark": {"type": "point", "shape": "triangle-left", "filled": true, "color": "#000000", "opacity": 1, "size": 90, "clip": true},
   "encoding": {
    "x": {"datum": 0.98, "type": "quantitative", "axis": null},
    "y": {"datum": 47.87, "type": "quantitative", "axis": null}
   }
  },
  {
   "mark": {"type": "point", "shape": "triangle-right", "filled": true, "color": "#000000", "opacity": 1, "size": 90, "clip": true},
   "encoding": {
    "x": {"datum": 112.3, "type": "quantitative", "axis": null},
    "y": {"datum": 47.5, "type": "quantitative", "axis": null}
   }
  },
  {
   "data": {"name": "totals"},
   "transform": [{"filter": "datum.name === '可処分所得'"}, {"calculate": "datum.name + '　' + format(datum.amount, ',') + '円'", "as": "t"}],
   "mark": {"type": "text", "align": "left", "baseline": "middle", "font": "Noto Sans CJK JP", "fontSize": 17, "color": "#262626", "clip": true},
   "encoding": {
    "x": {"datum": 25.27, "type": "quantitative", "axis": null},
    "y": {"datum": 47.67, "type": "quantitative", "axis": null},
    "text": {"field": "t", "type": "nominal"}
   }
  },
  {
   "mark": {"type": "rule", "color": "#262626", "strokeWidth": 1.2, "clip": true},
   "encoding": {
    "x": {"datum": 0.77, "type": "quantitative", "axis": null},
    "x2": {"datum": 30.4},
    "y": {"datum": 55.58, "type": "quantitative", "axis": null}
   }
  },
  {
   "mark": {"type": "rule", "color": "#555555", "strokeWidth": 1.2, "clip": true},
   "encoding": {
    "x": {"datum": 62.47, "type": "quantitative", "axis": null},
    "x2": {"datum": 98.9},
    "y": {"datum": 55.17, "type": "quantitative", "axis": null}
   }
  },
  {
   "mark": {"type": "point", "shape": "triangle-left", "filled": true, "color": "#000000", "opacity": 1, "size": 90, "clip": true},
   "encoding": {
    "x": {"datum": 1.31, "type": "quantitative", "axis": null},
    "y": {"datum": 55.58, "type": "quantitative", "axis": null}
   }
  },
  {
   "mark": {"type": "point", "shape": "triangle-right", "filled": true, "color": "#000000", "opacity": 1, "size": 90, "clip": true},
   "encoding": {
    "x": {"datum": 99.23, "type": "quantitative", "axis": null},
    "y": {"datum": 55.17, "type": "quantitative", "axis": null}
   }
  },
  {
   "data": {"name": "totals"},
   "transform": [{"filter": "datum.name === '消費支出'"}, {"calculate": "datum.name + format(datum.amount, ',') + '円 (100%)'", "as": "t"}],
   "mark": {"type": "text", "align": "left", "baseline": "middle", "font": "Noto Sans CJK JP", "fontSize": 17, "color": "#262626", "clip": true},
   "encoding": {
    "x": {"datum": 32.06, "type": "quantitative", "axis": null},
    "y": {"datum": 56.8, "type": "quantitative", "axis": null},
    "text": {"field": "t", "type": "nominal"}
   }
  }
 ]
}
